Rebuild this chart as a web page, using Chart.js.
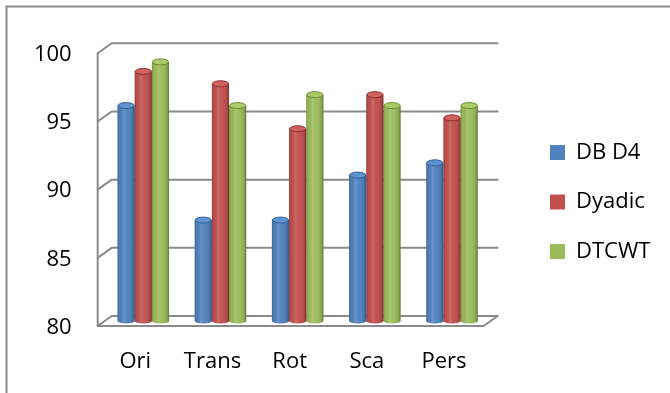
<!DOCTYPE html>
<html>
<head>
<meta charset="utf-8">
<script src="https://cdn.jsdelivr.net/npm/chart.js@4/dist/chart.umd.min.js"></script>
<style>
  html, body { margin: 0; padding: 0; background: #fff; }
  canvas { display: block; }
</style>
</head>
<body>
<canvas id="c" width="670" height="393"></canvas>
<script>
// ---- data ----
const categories = ['Ori', 'Trans', 'Rot', 'Sca', 'Pers'];
const seriesNames = ['DB D4', 'Dyadic', 'DTCWT'];
const dbD4   = [95.8, 87.4, 87.4, 90.7, 91.6];
const dyadic = [98.3, 97.4, 94.1, 96.6, 94.9];
const dtcwt  = [99.0, 95.8, 96.6, 95.8, 95.8];
const yTickValues = [80, 85, 90, 95, 100];

// ---- styles ----
const FONT = { family: "'Open Sans', sans-serif", size: 22 };
const GRID = '#8a8a8a';
const DX = 7, DY = 5; // half-depth of the pseudo-3D frame
const palette = [
  { base: '#4F81BD', top: '#5f92d0', rim: '#34608f' },
  { base: '#C0504D', top: '#d0625f', rim: '#8c302d' },
  { base: '#9BBB59', top: '#abcb69', rim: '#6e8b35' }
];

const frame3d = {
  id: 'frame3d',
  beforeDraw(chart) {
    const ctx = chart.ctx;
    ctx.save();
    ctx.strokeStyle = '#8c8c8c';
    ctx.lineWidth = 2;
    ctx.strokeRect(6.5, 6.5, 720, 420);
    ctx.restore();
  },
  beforeDatasetsDraw(chart) {
    const { ctx, chartArea: a } = chart;
    const ys = chart.scales.y;
    const L = a.left, R = a.right;
    ctx.save();
    ctx.strokeStyle = GRID;
    ctx.lineWidth = 2;
    ctx.lineCap = 'round';
    ctx.lineJoin = 'round';
    yTickValues.forEach(v => {
      const y = ys.getPixelForValue(v);
      ctx.beginPath();
      ctx.moveTo(L - DX, y + DY);
      ctx.lineTo(L + DX, y - DY);
      ctx.lineTo(R + DX, y - DY);
      ctx.stroke();
    });
    const yTop = ys.getPixelForValue(yTickValues[yTickValues.length - 1]);
    const yBot = ys.getPixelForValue(yTickValues[0]);
    ctx.beginPath();
    ctx.moveTo(L - DX, yTop + DY);
    ctx.lineTo(L - DX, yBot + DY);
    ctx.lineTo(R - DX, yBot + DY);
    ctx.lineTo(R + DX, yBot - DY);
    ctx.stroke();
    ctx.restore();
  },
  afterDatasetsDraw(chart) {
    const ctx = chart.ctx;
    const bottom = chart.chartArea.bottom;
    chart.data.datasets.forEach((ds, di) => {
      const meta = chart.getDatasetMeta(di);
      const col = palette[di];
      meta.data.forEach(bar => {
        const p = bar.getProps(['x', 'y', 'base', 'width'], true);
        const x = p.x, y = p.y, width = p.width;
        const base = Math.min(p.base, bottom);
        const l = x - width / 2, r = x + width / 2, rx = width / 2;
        ctx.save();
        // bottom rounding
        ctx.fillStyle = col.base;
        ctx.beginPath();
        ctx.ellipse(x, base, rx, 2.5, 0, 0, Math.PI);
        ctx.fill();
        // cylinder shading
        const g = ctx.createLinearGradient(l, 0, r, 0);
        g.addColorStop(0, 'rgba(0,0,0,0.22)');
        g.addColorStop(0.12, 'rgba(0,0,0,0.02)');
        g.addColorStop(0.35, 'rgba(255,255,255,0.14)');
        g.addColorStop(0.6, 'rgba(255,255,255,0.02)');
        g.addColorStop(0.88, 'rgba(0,0,0,0.12)');
        g.addColorStop(1, 'rgba(0,0,0,0.35)');
        ctx.fillStyle = g;
        ctx.beginPath();
        ctx.moveTo(l, y);
        ctx.lineTo(l, base);
        ctx.ellipse(x, base, rx, 2.5, 0, Math.PI, 0, true);
        ctx.lineTo(r, y);
        ctx.closePath();
        ctx.fill();
        // top cap
        ctx.beginPath();
        ctx.ellipse(x, y, rx - 0.5, 3, 0, 0, Math.PI * 2);
        ctx.fillStyle = col.top;
        ctx.fill();
        ctx.lineWidth = 1;
        ctx.strokeStyle = col.rim;
        ctx.stroke();
        ctx.restore();
      });
    });
  }
};

const legendWidth = {
  id: 'legendWidth',
  afterInit(chart) {
    const lg = chart.legend;
    if (!lg) return;
    const f = lg.fit.bind(lg);
    lg.fit = function () { f(); this.width = 147.5; };
  }
};

const seriesValues = [dbD4, dyadic, dtcwt];
new Chart(document.getElementById('c'), {
  type: 'bar',
  data: {
    labels: categories,
    datasets: seriesNames.map((n, i) => ({
      label: n,
      data: seriesValues[i],
      base: yTickValues[0],
      backgroundColor: palette[i].base,
      borderWidth: 0,
      categoryPercentage: 0.668,
      barPercentage: 1.0
    }))
  },
  options: {
    responsive: false,
    animation: false,
    devicePixelRatio: 1,
    layout: { padding: { top: 11, left: 0, right: 0, bottom: 0 } },
    scales: {
      x: {
        grid: { display: false, drawTicks: false },
        border: { display: false },
        ticks: { font: FONT, color: '#000', padding: 28, labelOffset: -8 },
        afterFit(s) { s.height = 72; }
      },
      x2: {
        type: 'category', position: 'top', display: true,
        grid: { display: false, drawTicks: false }, border: { display: false },
        ticks: { display: false },
        afterFit(s) { s.height = 37.3; }
      },
      y: {
        min: yTickValues[0], max: yTickValues[yTickValues.length - 1],
        grid: { display: false, drawTicks: false },
        border: { display: false },
        ticks: { stepSize: 5, font: FONT, color: '#000', padding: 33, labelOffset: 6.5 },
        afterFit(s) { s.width = 104.7; }
      },
      y2: {
        type: 'linear', position: 'right', display: true,
        grid: { display: false, drawTicks: false }, border: { display: false },
        ticks: { display: false },
        afterFit(s) { s.width = 31.9; }
      }
    },
    plugins: {
      legend: {
        position: 'right',
        labels: {
          font: FONT, color: '#000',
          boxWidth: 15, boxHeight: 15, padding: 27.5
        }
      },
      tooltip: { enabled: false }
    }
  },
  plugins: [frame3d, legendWidth]
});
</script>
</body>
</html>
